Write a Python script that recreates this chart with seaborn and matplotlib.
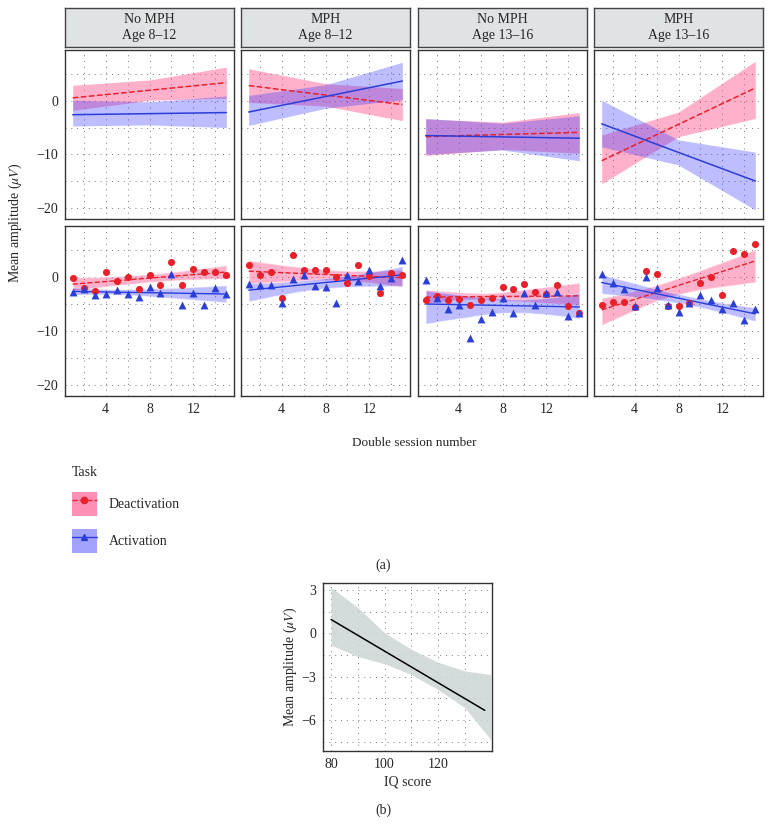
import numpy as np
import pandas as pd
import seaborn as sns
import matplotlib.pyplot as plt
from matplotlib.patches import Patch
from matplotlib.lines import Line2D
from matplotlib.legend_handler import HandlerTuple

# ---- data ----
sessions = list(range(1, 16))
panel_titles = ["No MPH\nAge 8\u201312", "MPH\nAge 8\u201312", "No MPH\nAge 13\u201316", "MPH\nAge 13\u201316"]

# bottom row: mean amplitude per double session
deact_points = [
    [-0.2, -2.0, -2.6, 0.9, -0.75, 0.1, -2.25, 0.45, -1.4, 2.9, -1.5, 1.5, 0.9, 0.9, 0.3],
    [2.2, 0.3, 0.9, -3.9, 4.1, 1.4, 1.25, 1.4, 0.05, -1.1, 2.3, 0.2, -2.9, 0.8, 0.3],
    [-4.2, -3.6, -4.2, -4.1, -5.1, -4.3, -3.8, -1.9, -2.2, -1.25, -2.7, -3.1, -1.5, -5.3, -6.75],
    [-5.1, -4.7, -4.6, -5.5, 1.1, 0.5, -5.3, -5.4, -4.9, -1.1, -0.05, -3.4, 4.9, 4.3, 6.1],
]
act_points = [
    [-2.7, -2.3, -3.4, -3.2, -2.4, -3.1, -3.7, -1.9, -2.9, 0.6, -5.2, -2.9, -5.2, -2.0, -3.2],
    [-1.3, -1.4, -1.4, -4.8, -0.3, 0.3, -1.6, -1.8, -4.9, 0.3, -0.75, 1.3, -1.6, -0.2, 3.1],
    [-0.6, -3.9, -5.9, -5.1, -11.3, -7.75, -6.4, -3.8, -6.6, -2.9, -5.1, -2.9, -2.8, -7.3, -6.75],
    [0.55, -1.1, -2.2, -5.3, -0.05, -2.1, -5.1, -6.5, -4.9, -3.3, -4.2, -6.0, -4.8, -7.9, -5.9],
]

# top row: model fits (line ends at sessions 1 and 15, bands at 1, 8, 15)
fit_x = [1, 15]
band_x = [1, 8, 15]
deact_fit = [[0.55, 3.4], [2.85, -0.7], [-6.7, -5.9], [-11.2, 2.4]]
deact_lo = [[-1.8, 0.1, 0.5], [-0.3, -1.0, -3.7], [-10.2, -9.1, -9.8], [-15.5, -6.7, -3.3]]
deact_hi = [[2.9, 3.9, 6.3], [6.0, 3.2, 2.3], [-3.4, -4.0, -2.2], [-6.4, -2.1, 7.4]]
act_fit = [[-2.6, -2.2], [-2.1, 3.7], [-6.5, -7.0], [-4.3, -15.0]]
act_lo = [[-4.7, -4.5, -5.0], [-4.6, -1.4, 0.2], [-10.0, -9.2, -11.2], [-8.6, -12.0, -20.4]]
act_hi = [[0.1, -0.2, 0.9], [1.0, 3.0, 7.2], [-3.3, -4.2, -2.8], [0.1, -7.3, -9.6]]

# panel (b): IQ score
iq_line_x = [80, 137.4]
iq_line_y = [0.97, -5.33]
iq_band_x = [80, 90, 100, 110, 120, 130, 139.6]
iq_band_lo = [-0.8, -1.6, -2.1, -2.85, -3.9, -5.15, -7.35]
iq_band_hi = [3.2, 1.8, 0.05, -1.1, -2.0, -2.6, -2.85]

# ---- style ----
sns.set_style("white")
plt.rcParams['font.family'] = ['Liberation Serif', 'DejaVu Serif']
plt.rcParams['mathtext.fontset'] = 'stix'

RED = '#e8202a'
BLUE = '#2a3ed8'
PINK_FILL = '#ff3377'
BLUE_FILL = '#3333ff'
PINK_A = 0.38
BLUE_A = 0.32
GRID = dict(color='#7a7a7a', lw=0.7, ls=(0, (1, 5)))
FS = 9.5
TICK_FS = 10

W, H = 772, 836
fig = plt.figure(figsize=(W / 100, H / 100), dpi=100)


def box(x0, y0, x1, y1):
    return [x0 / W, 1 - y1 / H, (x1 - x0) / W, (y1 - y0) / H]


def style_panel(ax, show_x, show_y):
    ax.set_xlim(0.3, 15.7)
    ax.set_ylim(-22.1, 9.5)
    ax.set_xticks([4, 8, 12])
    ax.set_xticks([2, 6, 10, 14], minor=True)
    ax.set_yticks([-20, -10, 0])
    ax.set_yticks([-15, -5, 5], minor=True)
    ax.grid(which='both', **GRID)
    ax.tick_params(which='minor', length=0)
    ax.tick_params(which='major', length=3, width=0.8, color='#333333', labelsize=TICK_FS, pad=2)
    if not show_x:
        ax.tick_params(axis='x', which='major', length=0, labelbottom=False)
    if not show_y:
        ax.tick_params(axis='y', which='major', length=0, labelleft=False)
    ax.set_xlabel('')
    ax.set_ylabel('')
    for s in ax.spines.values():
        s.set_color('#333333')
        s.set_linewidth(1.0)


col_x = [(65, 234), (241, 410), (418, 587), (594, 763)]

for i, (x0, x1) in enumerate(col_x):
    # strip
    sax = fig.add_axes(box(x0, 8, x1, 47))
    sax.set_facecolor('#dfe3e3')
    sax.set_xticks([])
    sax.set_yticks([])
    for s in sax.spines.values():
        s.set_color('#444444')
        s.set_linewidth(1.0)
    sax.text(0.5, 0.5, panel_titles[i], ha='center', va='center', fontsize=FS + 0.5,
             linespacing=1.3, transform=sax.transAxes)

    # top row: model fits
    ax = fig.add_axes(box(x0, 50, x1, 219))
    ax.fill_between(band_x, deact_lo[i], deact_hi[i], color=PINK_FILL, alpha=PINK_A, lw=0)
    ax.fill_between(band_x, act_lo[i], act_hi[i], color=BLUE_FILL, alpha=BLUE_A, lw=0)
    sns.lineplot(x=fit_x, y=deact_fit[i], ax=ax, color=RED, lw=1.1, linestyle='--', zorder=3)
    sns.lineplot(x=fit_x, y=act_fit[i], ax=ax, color=BLUE, lw=1.1, zorder=3)
    style_panel(ax, False, i == 0)

    # bottom row: observed means with regression fits
    ax = fig.add_axes(box(x0, 226, x1, 396))
    df = pd.DataFrame({'session': sessions * 2,
                       'amp': deact_points[i] + act_points[i],
                       'task': ['Deactivation'] * 15 + ['Activation'] * 15})
    for task, col, fill, a, mk, ls, sz in [('Deactivation', RED, PINK_FILL, PINK_A, 'o', '--', 26),
                                          ('Activation', BLUE, BLUE_FILL, BLUE_A, '^', '-', 32)]:
        sub = df[df['task'] == task]
        sns.regplot(data=sub, x='session', y='amp', ax=ax, marker=mk, color=col,
                    n_boot=2000, seed=3,
                    scatter_kws=dict(s=sz, zorder=5, linewidths=0, alpha=1),
                    line_kws=dict(lw=1.0, ls=ls, zorder=4))
        band = ax.collections[-1]
        band.set_facecolor(fill)
        band.set_alpha(a)
    style_panel(ax, True, i == 0)

fig.text(15 / W, 1 - 223 / H, r'Mean amplitude ($\mu V$)', rotation=90, ha='center', va='center', fontsize=FS + 0.5)
fig.text(414 / W, 1 - 443 / H, 'Double session number', ha='center', va='center', fontsize=FS)
fig.text(383 / W, 1 - 565 / H, '(a)', ha='center', va='center', fontsize=FS + 0.5)

# legend
handles = [(Patch(facecolor=PINK_FILL, alpha=0.55, lw=0), Line2D([], [], color=RED, ls='--', marker='o', ms=4.5, lw=1)),
           (Patch(facecolor=BLUE_FILL, alpha=0.45, lw=0), Line2D([], [], color=BLUE, ls='-', marker='^', ms=4.5, lw=1))]
fig.legend(handles, ['Deactivation', 'Activation'], title='Task', loc='upper left',
           bbox_to_anchor=(59 / W, 1 - 453 / H), frameon=False, fontsize=FS + 0.5, title_fontsize=FS + 0.5,
           handlelength=1.8, handleheight=2.3, labelspacing=0.95, handletextpad=0.9, alignment='left',
           handler_map={tuple: HandlerTuple(ndivide=1)})

# panel (b)
bx = fig.add_axes(box(323, 583, 492, 751))
bx.fill_between(iq_band_x, iq_band_lo, iq_band_hi, color='#ccd5d5', alpha=0.85, lw=0)
sns.lineplot(x=iq_line_x, y=iq_line_y, ax=bx, color='black', lw=1.1)
bx.set_xlim(77, 140.1)
bx.set_ylim(-8.15, 3.5)
bx.set_xticks([80, 100, 120])
bx.set_xticks([90, 110, 130], minor=True)
bx.set_yticks([-6, -3, 0, 3])
bx.set_yticks([-7.5, -4.5, -1.5, 1.5], minor=True)
bx.grid(which='both', **GRID)
bx.tick_params(which='minor', length=0)
bx.tick_params(which='major', length=3, width=0.8, color='#333333', labelsize=TICK_FS, pad=2)
for s in bx.spines.values():
    s.set_color('#333333')
    s.set_linewidth(1.0)
bx.set_xlabel('IQ score', fontsize=FS + 0.5, labelpad=3)
bx.set_ylabel(r'Mean amplitude ($\mu V$)', fontsize=FS + 0.5, labelpad=2)
fig.text(383 / W, 1 - 810 / H, '(b)', ha='center', va='center', fontsize=FS + 0.5)

fig.savefig('out.png', dpi=100, facecolor='white')
